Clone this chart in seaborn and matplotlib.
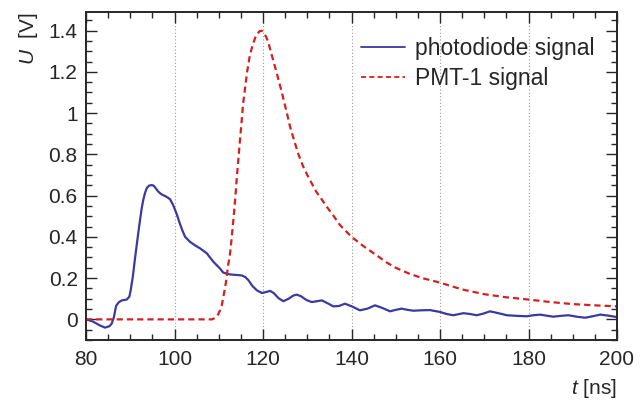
import numpy as np
import pandas as pd
import matplotlib
matplotlib.use("Agg")
import matplotlib.pyplot as plt
from matplotlib.ticker import MultipleLocator
import seaborn as sns

sns.set_style("ticks")
plt.rcParams['font.family'] = ['Liberation Sans', 'DejaVu Sans']
plt.rcParams['mathtext.fontset'] = 'custom'
plt.rcParams['mathtext.it'] = 'Liberation Sans:italic'
plt.rcParams['mathtext.rm'] = 'Liberation Sans'

# photodiode signal
t_diode = [80, 81.5, 83.2, 84.3, 85.3, 85.8, 86.3, 86.8, 87.4, 88.1, 89.2, 89.8, 90.1,
           90.6, 91.1, 91.7, 92.2, 92.6, 92.95, 93.3, 93.7, 94.2, 94.85, 95.3, 95.6,
           96.3, 97.0, 97.85, 98.5, 99.0, 99.7, 100.5, 101.2, 101.8, 102.4, 103.5,
           104.7, 105.8, 107.3, 108.8, 110.3, 111.0, 112.0, 112.9, 114.2, 115.2, 116.0,
           116.7, 117.6, 118.6, 119.7, 120.6, 121.6, 122.4, 123.5, 124.6, 125.8, 126.8,
           127.6, 128.6, 129.8, 131.0, 132.2, 133.3, 134.6, 135.9, 137.2, 138.5, 140.2,
           141.9, 143.6, 145.3, 147.0, 148.7, 150.0, 151.3, 152.7, 154.0, 155.8, 157.7,
           160.0, 161.5, 163.0, 165.3, 166.8, 168.3, 169.8, 171.3, 173.2, 175.1, 177.4,
           179.6, 181.1, 182.6, 184.1, 185.6, 187.3, 189.0, 190.9, 192.8, 194.5, 196.2,
           198.1, 200.0]
u_diode = [0.0, -0.01, -0.03, -0.04, -0.033, -0.021, 0.01, 0.065, 0.083, 0.092, 0.096, 0.11, 0.141,
           0.21, 0.30, 0.40, 0.48, 0.54, 0.58, 0.61, 0.635, 0.648, 0.651, 0.648, 0.64,
           0.62, 0.607, 0.598, 0.59, 0.582, 0.554, 0.51, 0.465, 0.43, 0.40, 0.376,
           0.358, 0.344, 0.32, 0.279, 0.246, 0.227, 0.22, 0.217, 0.215, 0.213, 0.205,
           0.19, 0.162, 0.141, 0.128, 0.132, 0.138, 0.128, 0.103, 0.088, 0.1, 0.115,
           0.12, 0.112, 0.094, 0.084, 0.088, 0.092, 0.078, 0.063, 0.065, 0.076, 0.062,
           0.044, 0.052, 0.068, 0.055, 0.039, 0.046, 0.052, 0.046, 0.042, 0.044, 0.045,
           0.036, 0.026, 0.02, 0.03, 0.026, 0.02, 0.028, 0.039, 0.03, 0.02, 0.017,
           0.015, 0.02, 0.023, 0.018, 0.013, 0.017, 0.02, 0.013, 0.008, 0.015, 0.023,
           0.018, 0.011]

# PMT-1 signal
t_pmt = [80, 108.5, 109.2, 109.8, 110.3, 110.7, 111.0, 111.4, 111.8, 112.1, 112.5, 112.8,
         113.3, 113.7, 114.06, 114.4, 114.8, 115.2, 115.5, 116.0, 116.45, 117.06, 117.7,
         118.35, 119.2, 119.7, 120.2, 120.7, 121.2, 121.96, 123.1, 124.2, 125.4, 126.1,
         127.0, 128.0, 129.0, 130.0, 131.0, 132.0, 133.0, 134.4, 136.0, 137.4, 140.0,
         142.7, 145.7, 148.0, 150.0, 153.0, 156.0, 160.0, 165.0, 170.0, 175.0, 180.0,
         185.0, 190.0, 195.0, 200.0]
u_pmt = [0, 0, 0.008, 0.022, 0.044, 0.07, 0.105, 0.15, 0.206, 0.26, 0.31, 0.37,
         0.48, 0.58, 0.68, 0.77, 0.87, 0.967, 1.045, 1.13, 1.205, 1.283, 1.332,
         1.372, 1.397, 1.399, 1.388, 1.37, 1.343, 1.283, 1.194, 1.105, 1.0, 0.935,
         0.87, 0.80, 0.745, 0.70, 0.66, 0.62, 0.59, 0.546, 0.50, 0.457, 0.40,
         0.355, 0.31, 0.275, 0.25, 0.222, 0.2, 0.178, 0.145, 0.122, 0.107, 0.096,
         0.084, 0.074, 0.068, 0.063]

df_d = pd.DataFrame({"t": t_diode, "U": u_diode})
df_p = pd.DataFrame({"t": t_pmt, "U": u_pmt})

fig = plt.figure(figsize=(6.44, 4.0), dpi=100)
ax = fig.add_axes([86 / 644, 1 - 340 / 400, (617 - 86) / 644, (340 - 12) / 400])

sns.lineplot(data=df_d, x="t", y="U", ax=ax, color="#3a3aa0", linewidth=1.6,
             label="photodiode signal", sort=False)
sns.lineplot(data=df_p, x="t", y="U", ax=ax, color="#d42020", linewidth=1.6,
             label="PMT-1 signal", sort=False)
ax.lines[1].set_dashes((2.8, 1.8))

ax.set_xlim(80, 200)
ax.set_ylim(-0.1, 1.49)
ax.xaxis.set_major_locator(MultipleLocator(20))
ax.xaxis.set_minor_locator(MultipleLocator(5))
ax.yaxis.set_minor_locator(MultipleLocator(0.05))
ax.set_yticks([0, 0.2, 0.4, 0.6, 0.8, 1.0, 1.2, 1.4],
              ["0", "0.2", "0.4", "0.6", "0.8", "1", "1.2", "1.4"])
for xv in [100, 120, 140, 160, 180]:
    ax.axvline(xv, color="#999999", linestyle=(0, (1, 2)), linewidth=0.8, zorder=0)

ax.tick_params(which="both", direction="in", top=True, right=True, labelsize=15, width=1.0)
ax.tick_params(which="major", length=8)
ax.tick_params(which="minor", length=4)
ax.tick_params(axis="x", pad=7)
ax.tick_params(axis="y", pad=6)
for s in ax.spines.values():
    s.set_linewidth(1.4)

ax.set_xlabel("$t$ [ns]", fontsize=15, loc="right", labelpad=6)
ax.set_ylabel("$U$  [V]", fontsize=15, loc="top", labelpad=6)

leg = ax.legend(loc="upper left", bbox_to_anchor=(0.518, 0.925), frameon=False,
                fontsize=16.5, handlelength=1.9, handletextpad=0.45, labelspacing=0.33,
                borderpad=0, borderaxespad=0)
for h in leg.get_lines():
    h.set_linewidth(1.3)

fig.savefig("out.png", dpi=100)
